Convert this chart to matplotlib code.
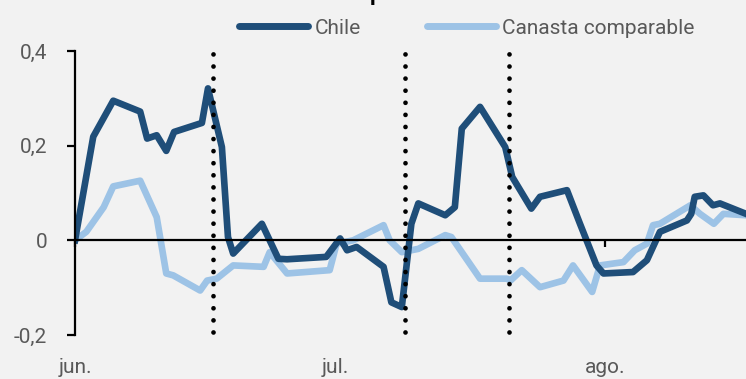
import matplotlib
matplotlib.use("Agg")
from matplotlib import pyplot as plt
from matplotlib.lines import Line2D

# days since 1 June
chile_x = [0, 2.1, 4.4, 7.5, 8.3, 9.4, 10.5, 11.4, 14.6, 15.3, 16.9, 17.6, 18.2,
           21.5, 23.4, 24.4, 28.9, 30.5, 31.3, 32.4, 35.5, 36.4, 37.6, 38.7, 39.5,
           42.6, 43.7, 44.5, 46.6, 49.5, 50.3, 52.5, 53.5, 56.6, 58.1, 60.0, 60.8,
           64.2, 65.8, 67.3, 70.4, 70.9, 71.3, 72.3, 73.4, 74.2, 77.2]
chile_y = [0, 0.219, 0.295, 0.272, 0.215, 0.222, 0.189, 0.229, 0.248, 0.321, 0.197, 0.007, -0.028,
           0.035, -0.039, -0.040, -0.035, 0.004, -0.021, -0.014, -0.056, -0.131, -0.141, 0.035, 0.078,
           0.053, 0.070, 0.236, 0.282, 0.197, 0.134, 0.067, 0.092, 0.106, 0.035, -0.053, -0.070,
           -0.067, -0.042, 0.018, 0.042, 0.056, 0.092, 0.095, 0.074, 0.078, 0.056]

canasta_x = [0, 1.3, 3.3, 4.4, 7.5, 9.4, 10.5, 11.3, 14.4, 15.2, 16.3, 18.2, 21.7,
             22.4, 24.4, 29.3, 30.1, 32.0, 35.5, 36.2, 37.6, 39.5, 42.6, 43.3, 46.6,
             49.7, 50.1, 51.4, 53.5, 56.2, 57.3, 59.5, 60.4, 63.1, 64.4, 65.8, 66.5,
             67.3, 70.8, 71.9, 73.5, 74.6, 77.2]
canasta_y = [0, 0.018, 0.070, 0.114, 0.126, 0.049, -0.070, -0.074, -0.106, -0.085, -0.081, -0.053, -0.056,
             -0.025, -0.070, -0.063, -0.007, 0.0, 0.032, 0.0, -0.025, -0.018, 0.011, 0.007, -0.081,
             -0.081, -0.085, -0.063, -0.099, -0.085, -0.053, -0.109, -0.053, -0.046, -0.021, -0.007, 0.032,
             0.035, 0.074, 0.056, 0.035, 0.056, 0.053]

month_pos = [0, 30, 61]
month_labels = ["jun.", "jul.", "ago."]
yticks = [-0.2, 0, 0.2, 0.4]
ylabels = ["-0,2", "0", "0,2", "0,4"]
event_days = [15.9, 38.0, 49.9]

dark = "#1f4e79"
light = "#9dc3e6"
grey = "#595959"
bg = "#f2f2f2"

plt.rcParams["font.family"] = ["Roboto", "DejaVu Sans"]

fig = plt.figure(figsize=(7.46, 3.79), dpi=100, facecolor=bg)
ax = fig.add_axes([75 / 746, 1 - 335 / 379, 1 - 75 / 746, (335 - 51) / 379])
ax.set_facecolor(bg)

for d in event_days:
    ax.plot([d, d], [-0.193, 0.4], color="black", lw=3.4,
            dashes=(0.01, 2.55), dash_capstyle="round", zorder=3, clip_on=False)

ax.plot(chile_x, chile_y, color=dark, lw=4.8, solid_joinstyle="round", zorder=2)
ax.plot(canasta_x, canasta_y, color=light, lw=4.8, solid_joinstyle="round", zorder=1)

ax.set_xlim(0, 77.2)
ax.set_ylim(-0.2, 0.4)

for s in ["top", "right"]:
    ax.spines[s].set_visible(False)
ax.spines["left"].set_linewidth(1.6)
ax.spines["bottom"].set_position(("data", 0))
ax.spines["bottom"].set_linewidth(1.6)

ax.set_yticks(yticks)
ax.set_yticklabels(ylabels)
ax.set_xticks(month_pos)
ax.set_xticklabels(month_labels)
ax.tick_params(axis="y", length=6, width=1.6, pad=14, labelsize=15, labelcolor=grey)
ax.tick_params(axis="x", length=5, width=1.6, pad=80, labelsize=15, labelcolor=grey)

handles = [Line2D([], [], color=dark, lw=5, solid_capstyle="round"),
           Line2D([], [], color=light, lw=5, solid_capstyle="round")]
leg = fig.legend(handles, ["Chile", "Canasta comparable"], loc="center",
                 bbox_to_anchor=(0.626, 0.926), ncol=2, frameon=False,
                 fontsize=15, handlelength=3.3, handletextpad=0.3, columnspacing=3.2)
for t in leg.get_texts():
    t.set_color(grey)

# descender of the cut-off title
fig.text(376 / 746, 1.0, "p", fontsize=16, fontweight="bold", ha="center", va="baseline")

fig.savefig("out.png", dpi=100, facecolor=bg)
